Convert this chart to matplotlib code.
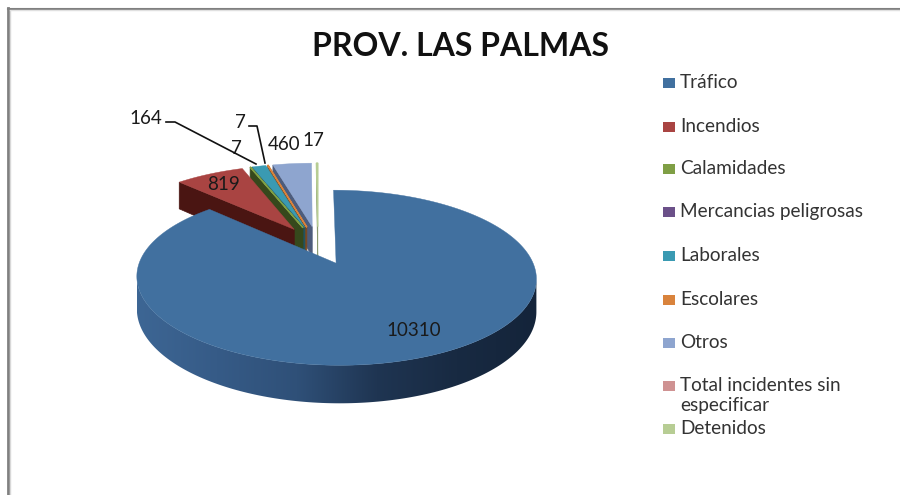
import numpy as np
import matplotlib
matplotlib.use("Agg")
import matplotlib.pyplot as plt
from matplotlib.colors import LinearSegmentedColormap
from matplotlib.patches import Polygon, Rectangle

plt.rcParams['font.family'] = ['Lato', 'DejaVu Sans']

# chart values
categories = ["Tráfico", "Incendios", "Calamidades", "Mercancias peligrosas", "Laborales",
              "Escolares", "Otros", "Total incidentes sin\nespecificar", "Detenidos"]
values = [10310, 819, 7, 0, 164, 7, 460, 0, 17]
top_colors = ["#41709f", "#a94442", "#7f9f45", "#6b5089", "#3a9ab2",
              "#d9833c", "#8ea5cf", "#cf9292", "#b7cd94"]
wall_colors = ["#2c4f78", "#4a1512", "#36481c", "#352848", "#1d5464",
               "#80481c", "#4d5c7c", "#7a4f4f", "#8a9a70"]

# projection of the pie plane onto the picture
cx, cy = 318, 245
sx, sy, persp = 190, 79.2, 0.16
explode = 0.24
wall_h = 30.6


def project(X, Y):
    w = 1 + persp * Y
    return cx + sx * X / w, cy - sy * Y / w, wall_h / w


def slice_points(start, end, n):
    mid = np.radians((start + end) / 2)
    ox, oy = explode * np.sin(mid), explode * np.cos(mid)
    t = np.radians(np.linspace(start, end, n))
    return ox, oy, ox + np.sin(t), oy + np.cos(t)


fig = plt.figure(figsize=(9, 4.95), dpi=100)
ax = fig.add_axes([0, 0, 1, 1])
ax.set_xlim(0, 900)
ax.set_ylim(495, 0)
ax.axis("off")

wall_cmap = LinearSegmentedColormap.from_list(
    "wall", ["#3d6694", "#365b87", "#2f5078", "#1f3552", "#182a42", "#14243a"])

# angles, clockwise from the top
angles = np.cumsum([0] + values) / sum(values) * 360

# small slices from the right to the left, Tráfico last because it is in front
for i in list(range(len(values) - 1, 0, -1)) + [0]:
    if values[i] == 0:
        continue
    start, end = angles[i], angles[i + 1]
    ox, oy, X, Y = slice_points(start, end, 300 if i == 0 else 40)
    tx, ty, th = project(ox, oy)
    px, py, ph = project(X, Y)

    if i == 0:
        # round outer wall, one gradient clipped to the whole band
        keep = np.arange(px.argmax(), px.argmin() + 1)
        band = np.r_[np.column_stack([px[keep], py[keep]]),
                     np.column_stack([px[keep], py[keep] + ph[keep]])[::-1]]
        outline = Polygon(band, closed=True, fc="none", ec="none", transform=ax.transData)
        ax.add_patch(outline)
        im = ax.imshow(np.linspace(0, 1, 256)[None, :], cmap=wall_cmap, aspect="auto",
                       extent=[px.min(), px.max(), 410, 270], zorder=1)
        im.set_clip_path(outline)
        ax.set_xlim(0, 900)
        ax.set_ylim(495, 0)
    else:
        # flat wall under the left edge of the slice
        quad = [(tx, ty), (px[0], py[0]), (px[0], py[0] + ph[0]), (tx, ty + th)]
        ax.add_patch(Polygon(quad, closed=True, fc=wall_colors[i], ec=wall_colors[i],
                             lw=0.5, zorder=1))

    top = np.column_stack([np.r_[tx, px], np.r_[ty, py]])
    thin = values[i] < 20
    ax.add_patch(Polygon(top, closed=True, fc=top_colors[i], ec=top_colors[i],
                         lw=1.0 if thin else 0.3, zorder=1))

# data labels
label_text = ["10310", "819", "7", "164", "7", "460", "17"]
label_x = [414, 224, 236, 146, 240, 284, 313]
label_y = [330, 185, 149, 118, 122, 145, 141]
for s, x, y in zip(label_text, label_x, label_y):
    ax.text(x, y, s, fontsize=13.5, color="#1a1a1a", ha="center", va="center", zorder=3)

# leader lines
ax.plot([166, 175, 256], [122, 122, 164], color="#111111", lw=1.2, zorder=3)
ax.plot([249, 257, 265], [126, 126, 163], color="#111111", lw=1.2, zorder=3)

# title
ax.text(461, 46, "PROV. LAS PALMAS", fontsize=23, fontweight="bold", color="#111111",
        ha="center", va="center")

# legend
legend_y = [83, 127, 169, 212, 256, 300, 343, 386, 429]
for name, col, y in zip(categories, top_colors, legend_y):
    ax.add_patch(Rectangle((663, y - 5), 12, 10, fc=col, ec="none"))
    ax.text(680, y - 9, name, fontsize=13.7, color="#333333", ha="left", va="top",
            linespacing=1.25)

# page border
ax.plot([8, 8], [495, 8], color="#808080", lw=2)
ax.plot([10, 10], [495, 10], color="#d8d8d8", lw=1)
ax.plot([8, 900], [8.5, 8.5], color="#808080", lw=1.5)
ax.plot([10, 900], [10, 10], color="#e0e0e0", lw=1)

fig.savefig("out.png", dpi=100)
